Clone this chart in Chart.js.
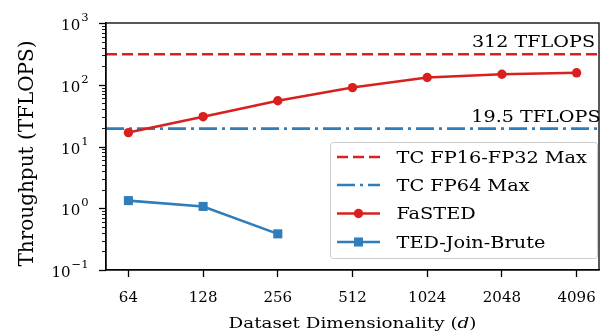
<!DOCTYPE html>
<html><head><meta charset="utf-8">
<script src="https://cdn.jsdelivr.net/npm/chart.js@4"></script>
<style>html,body{margin:0;padding:0;background:#fff}canvas{display:block}</style>
</head><body>
<canvas id="c" width="608" height="335"></canvas>
<script>
const categories = ['64','128','256','512','1024','2048','4096'];
const fasted = [16.8, 30.4, 55, 90, 131, 148, 156];
const tedJoinBrute = [1.33, 1.07, 0.385, null, null, null, null];
const fp16fp32Max = 312;
const fp64Max = 19.5;
const yTickValues = [0.1, 1, 10, 100, 1000];
const yTickExponents = ['\u22121', '0', '1', '2', '3'];
const refLabels = ['312 TFLOPS', '19.5 TFLOPS'];
const seriesNames = ['TC FP16-FP32 Max', 'TC FP64 Max', 'FaSTED', 'TED-Join-Brute'];
const xTitleParts = ['Dataset Dimensionality (', 'd', ')'];
const yTitle = 'Throughput (TFLOPS)';

const RED = '#d9201f';
const BLUE = '#2f7dbb';
const FONT = '"DejaVu Serif", serif';
const XMIN = -0.3, XMAX = categories.length - 1 + 0.3;
const RED_DASH = [11, 5];
const BLUE_DASH = [18, 5, 3, 5];

// draw text horizontally stretched by sx, anchored at (x,y)
function stretchedText(ctx, text, x, y, font, sx, align) {
  ctx.save();
  ctx.font = font;
  const w = ctx.measureText(text).width * sx;
  let left = x;
  if (align === 'right') left = x - w;
  else if (align === 'center') left = x - w / 2;
  ctx.translate(left, y);
  ctx.scale(sx, 1);
  ctx.textAlign = 'left';
  ctx.textBaseline = 'alphabetic';
  ctx.fillText(text, 0, 0);
  ctx.restore();
  return w;
}

const deco = {
  id: 'deco',
  afterDraw(chart) {
    const ctx = chart.ctx, ys = chart.scales.y, a = chart.chartArea;
    ctx.save();
    // frame
    ctx.strokeStyle = '#000'; ctx.lineWidth = 1.3; ctx.setLineDash([]);
    ctx.strokeRect(a.left, a.top, a.right - a.left, a.bottom - a.top);
    // y ticks (major + minor)
    for (let e = -1; e <= 3; e++) {
      for (let m = 1; m <= 9; m++) {
        const v = m * Math.pow(10, e);
        if (v > 1000) break;
        const py = Math.round(ys.getPixelForValue(v)) + 0.5;
        const len = m === 1 ? 7 : 4;
        ctx.lineWidth = m === 1 ? 1.3 : 0.9;
        ctx.beginPath(); ctx.moveTo(a.left - len, py); ctx.lineTo(a.left, py); ctx.stroke();
      }
    }
    // y tick labels with superscripts
    ctx.fillStyle = '#000';
    yTickValues.forEach((v, i) => {
      const py = ys.getPixelForValue(v);
      const exp = yTickExponents[i];
      ctx.font = `11.5px ${FONT}`;
      ctx.textBaseline = 'alphabetic';
      const ew = ctx.measureText(exp).width;
      const right = 88.5;
      ctx.textAlign = 'right';
      ctx.fillText(exp, right, py - 2);
      ctx.font = `15px ${FONT}`;
      ctx.fillText('10', right - ew - 1, py + 7);
    });
    // y title
    ctx.save();
    ctx.translate(33, 153.5);
    ctx.rotate(-Math.PI / 2);
    ctx.font = `20px ${FONT}`; ctx.textAlign = 'center'; ctx.textBaseline = 'alphabetic';
    ctx.fillText(yTitle, 0, 0);
    ctx.restore();
    // x title with italic d (horizontally stretched)
    const SX = 1.22;
    const fonts = [`15px ${FONT}`, `italic 15px ${FONT}`, `15px ${FONT}`];
    let total = 0;
    xTitleParts.forEach((t, i) => { ctx.font = fonts[i]; total += ctx.measureText(t).width * SX; });
    let tx = (a.left + a.right) / 2 - total / 2;
    xTitleParts.forEach((t, i) => { tx += stretchedText(ctx, t, tx, 328, fonts[i], SX, 'left'); });
    // reference line labels
    const LF = `16.5px ${FONT}`, LSX = 1.16;
    stretchedText(ctx, refLabels[0], 595, 47.3, LF, LSX, 'right');
    stretchedText(ctx, refLabels[1], 600.5, 121.7, LF, LSX, 'right');
    // legend
    const L = 330, T = 142, R = 597, B = 258;
    ctx.beginPath();
    if (ctx.roundRect) ctx.roundRect(L + 0.5, T + 0.5, R - L, B - T, 3); else ctx.rect(L + 0.5, T + 0.5, R - L, B - T);
    ctx.fillStyle = 'rgba(255,255,255,0.8)'; ctx.fill();
    ctx.strokeStyle = '#cccccc'; ctx.lineWidth = 1; ctx.stroke();
    const rows = [157, 185, 213.5, 242];
    const x0 = 337, x1 = 380, xc = (x0 + x1) / 2;
    const styles = [
      { c: RED, dash: RED_DASH, m: null },
      { c: BLUE, dash: BLUE_DASH, m: null },
      { c: RED, dash: [], m: 'circle' },
      { c: BLUE, dash: [], m: 'rect' }
    ];
    styles.forEach((s, i) => {
      const y = rows[i];
      ctx.strokeStyle = s.c; ctx.lineWidth = 2.6; ctx.setLineDash(s.dash); ctx.lineCap = 'butt';
      ctx.beginPath(); ctx.moveTo(x0, y); ctx.lineTo(x1, y); ctx.stroke();
      ctx.setLineDash([]);
      ctx.fillStyle = s.c;
      if (s.m === 'circle') { ctx.beginPath(); ctx.arc(xc, y, 4.7, 0, Math.PI * 2); ctx.fill(); }
      if (s.m === 'rect') { ctx.fillRect(xc - 4.5, y - 4.5, 9, 9); }
      ctx.fillStyle = '#000';
      stretchedText(ctx, seriesNames[i], 396.5, y + 5.8, LF, 1.17, 'left');
    });
    ctx.restore();
  }
};

const toXY = arr => arr.map((v, i) => ({ x: i, y: v }));

new Chart(document.getElementById('c'), {
  type: 'line',
  data: {
    datasets: [
      { label: seriesNames[2], data: toXY(fasted), borderColor: RED, backgroundColor: RED,
        borderWidth: 2.6, pointRadius: 4.7, pointBorderWidth: 0, pointStyle: 'circle', order: 0 },
      { label: seriesNames[3], data: toXY(tedJoinBrute), borderColor: BLUE, backgroundColor: BLUE,
        borderWidth: 2.6, pointRadius: 6.4, pointBorderWidth: 0, pointStyle: 'rect', order: 1, spanGaps: false },
      { label: seriesNames[0], data: [{ x: XMIN, y: fp16fp32Max }, { x: XMAX, y: fp16fp32Max }],
        borderColor: RED, borderWidth: 2.6, borderDash: RED_DASH, pointRadius: 0, order: 3 },
      { label: seriesNames[1], data: [{ x: XMIN, y: fp64Max }, { x: XMAX, y: fp64Max }],
        borderColor: BLUE, borderWidth: 2.6, borderDash: BLUE_DASH, pointRadius: 0, order: 2 }
    ]
  },
  options: {
    responsive: false, animation: false, devicePixelRatio: 1,
    layout: { padding: { top: 23, right: 7, left: 0, bottom: 0 } },
    plugins: { legend: { display: false }, tooltip: { enabled: false } },
    scales: {
      x: {
        type: 'linear', min: XMIN, max: XMAX,
        afterBuildTicks: s => { s.ticks = categories.map((c, i) => ({ value: i })); },
        afterFit: s => { s.height = 65; },
        ticks: { callback: (v) => categories[v], font: { family: FONT, size: 15 }, color: '#000', padding: 12, maxRotation: 0 },
        grid: { drawOnChartArea: false, drawTicks: true, tickLength: 7, tickColor: '#000', tickWidth: 1.3 },
        border: { display: true, color: '#000', width: 1.3 }
      },
      y: {
        type: 'logarithmic', min: 0.1, max: 1000,
        afterFit: s => { s.width = 106; },
        ticks: { display: false },
        grid: { display: false },
        border: { display: true, color: '#000', width: 1.3 }
      }
    }
  },
  plugins: [deco]
});
</script>
</body></html>
